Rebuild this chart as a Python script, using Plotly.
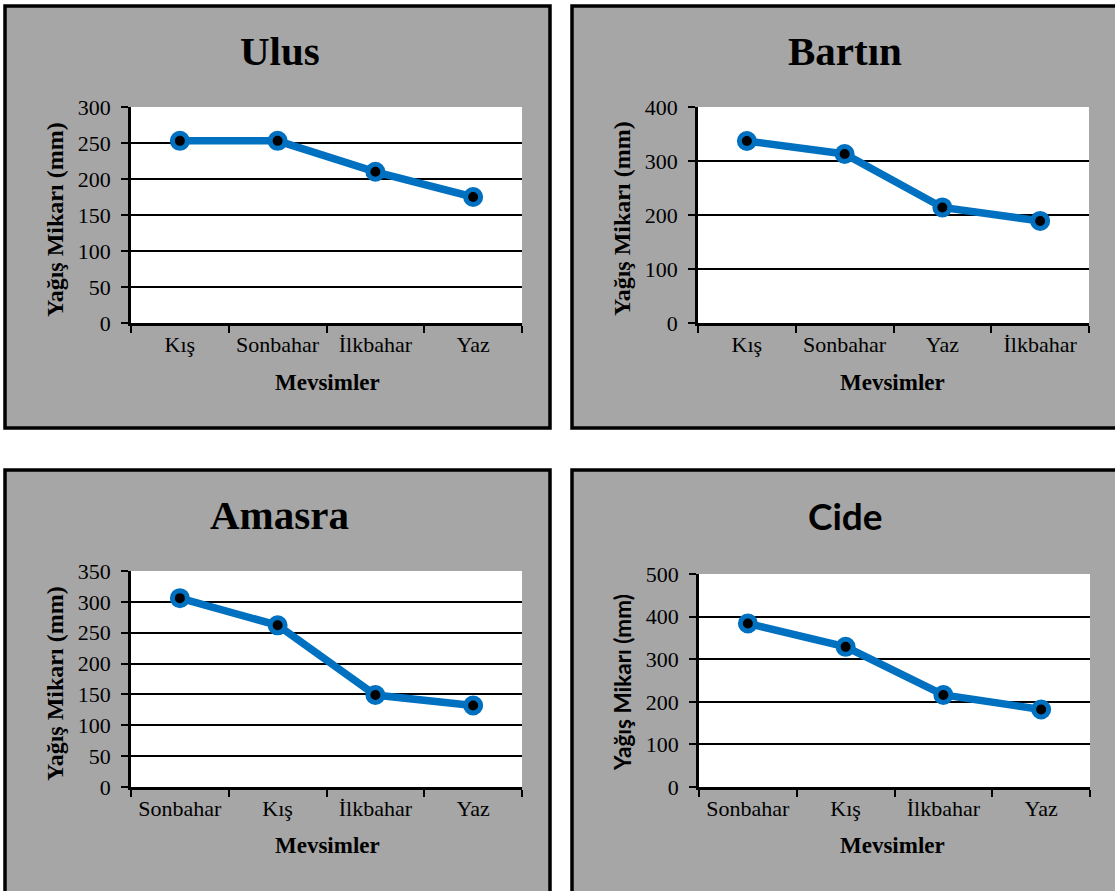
import plotly.graph_objects as go

W, H = 1115, 891

# ---- data ----
ulus_cats = ["Kış", "Sonbahar", "İlkbahar", "Yaz"]
ulus_vals = [253, 253, 210, 175]

bartin_cats = ["Kış", "Sonbahar", "Yaz", "İlkbahar"]
bartin_vals = [337, 313, 214, 189]

amasra_cats = ["Sonbahar", "Kış", "İlkbahar", "Yaz"]
amasra_vals = [306, 262, 149, 132]

cide_cats = ["Sonbahar", "Kış", "İlkbahar", "Yaz"]
cide_vals = [384, 329, 216, 182]

titles = ["Ulus", "Bartın", "Amasra", "Cide"]
y_max = [300, 400, 350, 500]
y_dtick = [50, 100, 50, 100]
x_title = "Mevsimler"
y_title = "Yağış Mikarı (mm)"

SERIF = "Liberation Serif, Times New Roman, serif"
SANS = "Lato, Carlito, Calibri, sans-serif"
BLUE = "#0070c0"
GRAY = "#a6a6a6"


def fx(px):
    return px / W


def fy(py):
    return 1 - py / H


# panel rects (px): x0, y0, x1, y1
panels = [(5, 6, 550, 428), (572, 6, 1122, 428), (5, 470, 550, 896), (572, 470, 1122, 896)]
# plot areas (px): x0, y0(top), x1, y1(bottom)
plots = [(131, 107, 522, 323), (698, 107, 1089, 323), (131, 571, 522, 787), (699, 574, 1090, 787)]
title_pos = [(280, 51), (845, 51), (279, 515), (845, 515)]
xt_pos = [(327, 383), (892, 383), (327, 845), (892, 845)]
yt_pos = [(55, 219), (622, 219), (55, 683), (622, 683)]

cats = [ulus_cats, bartin_cats, amasra_cats, cide_cats]
vals = [ulus_vals, bartin_vals, amasra_vals, cide_vals]

fig = go.Figure()
shapes = []
annotations = []
layout_axes = {}

for i in range(4):
    n = "" if i == 0 else str(i + 1)
    xa, ya = "x" + n, "y" + n
    fig.add_trace(go.Scatter(
        x=cats[i], y=vals[i], xaxis=xa, yaxis=ya, mode="lines+markers",
        line=dict(color=BLUE, width=7.5),
        marker=dict(size=15, color="black", line=dict(color=BLUE, width=5)),
        showlegend=False, cliponaxis=False,
    ))
    px0, py0, px1, py1 = plots[i]
    layout_axes["xaxis" + n] = dict(
        domain=[fx(px0), fx(px1)], anchor=ya, type="category",
        categoryorder="array", categoryarray=cats[i],
        range=[-0.5, 3.5], tickson="boundaries", ticks="outside", ticklen=7,
        tickwidth=2, tickcolor="black", showline=True, linecolor="black", linewidth=2.5,
        showgrid=False, zeroline=False, fixedrange=True, automargin=False,
        tickfont=dict(family=SERIF, size=22, color="black"),
    )
    layout_axes["yaxis" + n] = dict(
        domain=[fy(py1), fy(py0)], anchor=xa, range=[0, y_max[i]], dtick=y_dtick[i],
        tick0=0, ticks="outside", ticklen=7, tickwidth=2, tickcolor="black",
        showline=True, linecolor="black", linewidth=2.5, showgrid=True,
        gridcolor="black", gridwidth=2, zeroline=False, fixedrange=True, automargin=False,
        tickfont=dict(family=SERIF, size=22, color="black"), ticklabelstandoff=6,
    )
    x0, y0, x1, y1 = panels[i]
    shapes.append(dict(type="rect", xref="paper", yref="paper", x0=fx(x0), x1=fx(x1),
                       y0=fy(y1), y1=fy(y0), fillcolor=GRAY,
                       line=dict(color="black", width=3.5), layer="below"))
    shapes.append(dict(type="rect", xref=xa + " domain", yref=ya + " domain", x0=0, x1=1,
                       y0=0, y1=1, fillcolor="white", line=dict(width=0), layer="below"))
    tfam = SANS if i == 3 else SERIF
    tsize = 37 if i == 3 else 41
    annotations.append(dict(text="<b>%s</b>" % titles[i], x=fx(title_pos[i][0]), y=fy(title_pos[i][1]),
                            xref="paper", yref="paper", showarrow=False, xanchor="center", yanchor="middle",
                            font=dict(family=tfam, size=tsize, color="black")))
    annotations.append(dict(text="<b>%s</b>" % x_title, x=fx(xt_pos[i][0]), y=fy(xt_pos[i][1]),
                            xref="paper", yref="paper", showarrow=False, xanchor="center", yanchor="middle",
                            font=dict(family=SERIF, size=23, color="black")))
    yfam = SANS if i == 3 else SERIF
    ysize = 22.5 if i == 3 else 24
    annotations.append(dict(text="<b>%s</b>" % y_title, x=fx(yt_pos[i][0]), y=fy(yt_pos[i][1]),
                            xref="paper", yref="paper", showarrow=False, xanchor="center", yanchor="middle",
                            textangle=-90, font=dict(family=yfam, size=ysize, color="black")))

fig.update_layout(
    width=W, height=H, autosize=False, margin=dict(l=0, r=0, t=0, b=0, pad=0),
    paper_bgcolor="white", plot_bgcolor="white", showlegend=False,
    shapes=shapes, annotations=annotations, **layout_axes,
)

fig.write_html(
    "out.html",
    config={"responsive": False, "displayModeBar": False},
    post_script="document.body.style.margin='0';document.body.style.overflow='hidden';",
)
